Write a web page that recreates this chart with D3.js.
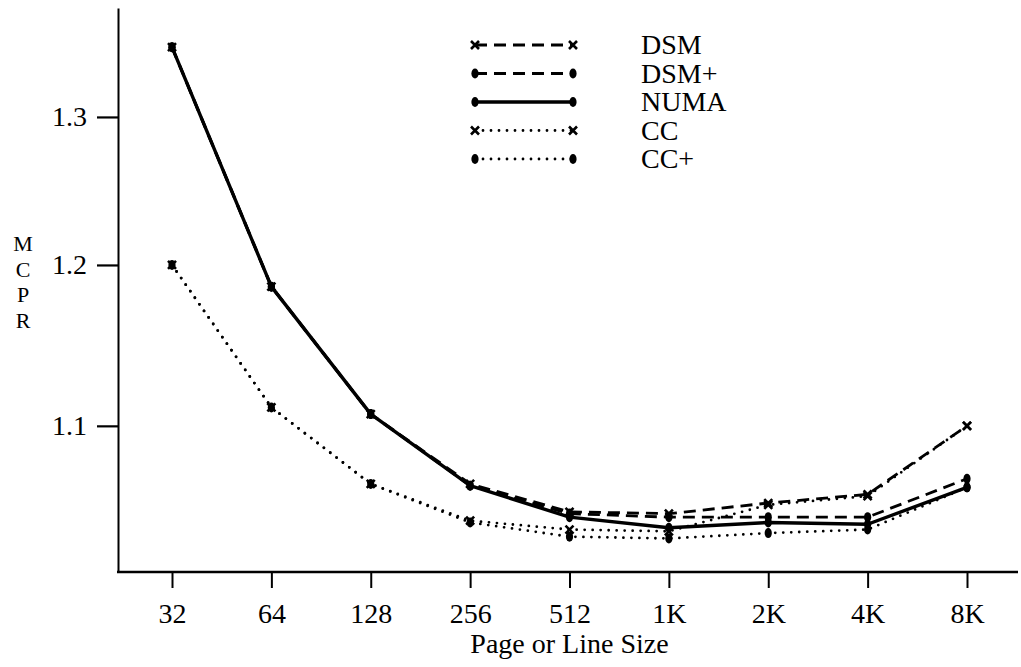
<!DOCTYPE html>
<html>
<head>
<meta charset="utf-8">
<script src="https://cdn.jsdelivr.net/npm/d3@7"></script>
<style>
  html, body { margin: 0; padding: 0; background: #fff; }
  svg { display: block; }
  text { font-family: "Liberation Serif", "Times New Roman", serif; fill: #000; }
</style>
</head>
<body>
<svg id="chart" width="1021" height="667"></svg>
<script>
// ---- data ----
const categories = ["32", "64", "128", "256", "512", "1K", "2K", "4K", "8K"];
const seriesNames = ["DSM", "DSM+", "NUMA", "CC", "CC+"];
const dsm     = [1.350, 1.186, 1.107, 1.066, 1.050, 1.049, 1.055, 1.060, 1.100];
const dsmPlus = [1.350, 1.186, 1.107, 1.065, 1.049, 1.047, 1.047, 1.047, 1.069];
const numa    = [1.350, 1.186, 1.107, 1.065, 1.047, 1.041, 1.044, 1.043, 1.064];
const cc      = [1.200, 1.111, 1.066, 1.045, 1.040, 1.039, 1.054, 1.059, 1.100];
const ccPlus  = [1.200, 1.111, 1.066, 1.044, 1.036, 1.035, 1.038, 1.040, 1.064];
const yTicks = [1.1, 1.2, 1.3];
const yLabel = ["M", "C", "P", "R"];
const xTitle = "Page or Line Size";

// ---- styles ----
const styles = {
  "DSM":  { dash: "12 7", width: 2.8, marker: "x", cap: "butt" },
  "DSM+": { dash: "12 7", width: 2.8, marker: "dot", cap: "butt" },
  "NUMA": { dash: null,   width: 3.4, marker: "dot", cap: "round" },
  "CC":   { dash: "0 8",  width: 2.8, marker: "x", cap: "round" },
  "CC+":  { dash: "0 8",  width: 2.8, marker: "dot", cap: "round" }
};
const seriesData = { "DSM": dsm, "DSM+": dsmPlus, "NUMA": numa, "CC": cc, "CC+": ccPlus };

const svg = d3.select("#chart");
const x = d3.scalePoint().domain(categories).range([172, 967]);
const y = d3.scaleLog().domain([1.0164, 1.3789]).range([572, 8]);

// y axis
const yAxis = svg.append("g").attr("transform", "translate(118,0)")
  .call(d3.axisLeft(y).tickValues(yTicks).tickFormat(d3.format(".1f"))
        .tickSize(21).tickSizeOuter(0).tickPadding(10));
yAxis.select(".domain").attr("stroke-width", 2);
yAxis.selectAll(".tick line").attr("stroke-width", 2.2);
yAxis.selectAll("text").style("font-size", "28px").attr("font-family", null);

// x axis
svg.append("line").attr("x1", 117).attr("x2", 1018).attr("y1", 572).attr("y2", 572)
  .attr("stroke", "#000").attr("stroke-width", 2.4);
const xAxis = svg.append("g").attr("transform", "translate(0,572)")
  .call(d3.axisBottom(x).tickSize(16).tickPadding(15));
xAxis.select(".domain").remove();
xAxis.selectAll(".tick line").attr("stroke-width", 2);
xAxis.selectAll("text").style("font-size", "28px").attr("font-family", null);

svg.append("text").attr("x", 569.5).attr("y", 653).attr("text-anchor", "middle")
  .style("font-size", "28px").text(xTitle);

// vertical stacked y label
svg.append("g").selectAll("text").data(yLabel).join("text")
  .attr("x", 23).attr("y", (d, i) => 251 + i * 25.5)
  .attr("text-anchor", "middle").style("font-size", "22px").text(d => d);

// markers
function drawMarker(g, type, cx, cy) {
  if (type === "x") {
    const s = 4;
    g.append("path")
      .attr("d", `M${cx - s},${cy - s}L${cx + s},${cy + s}M${cx - s},${cy + s}L${cx + s},${cy - s}`)
      .attr("stroke", "#000").attr("stroke-width", 2.6).attr("fill", "none");
  } else {
    g.append("ellipse").attr("cx", cx).attr("cy", cy).attr("rx", 3.6).attr("ry", 5)
      .attr("fill", "#000");
  }
}

const line = d3.line().x((d, i) => x(categories[i])).y(d => y(d));
const order = ["DSM", "DSM+", "CC", "CC+", "NUMA"];
const plot = svg.append("g");
order.forEach(name => {
  const st = styles[name];
  plot.append("path").datum(seriesData[name])
    .attr("d", line).attr("fill", "none").attr("stroke", "#000")
    .attr("stroke-width", st.width).attr("stroke-linecap", st.cap)
    .attr("stroke-linejoin", "round")
    .attr("stroke-dasharray", st.dash);
});
order.forEach(name => {
  const st = styles[name];
  const g = plot.append("g");
  seriesData[name].forEach((v, i) => drawMarker(g, st.marker, x(categories[i]), y(v)));
});

// legend
const legend = svg.append("g");
seriesNames.forEach((name, i) => {
  const st = styles[name];
  const ly = 45 + i * 28.5;
  const lg = legend.append("g");
  lg.append("line").attr("x1", 475).attr("x2", 573).attr("y1", ly).attr("y2", ly)
    .attr("stroke", "#000").attr("stroke-width", st.width)
    .attr("stroke-linecap", st.cap).attr("stroke-dasharray", st.dash);
  drawMarker(lg, st.marker, 475, ly);
  drawMarker(lg, st.marker, 573, ly);
  lg.append("text").attr("x", 641).attr("y", ly + 9).style("font-size", "28px").text(name);
});
</script>
</body>
</html>
